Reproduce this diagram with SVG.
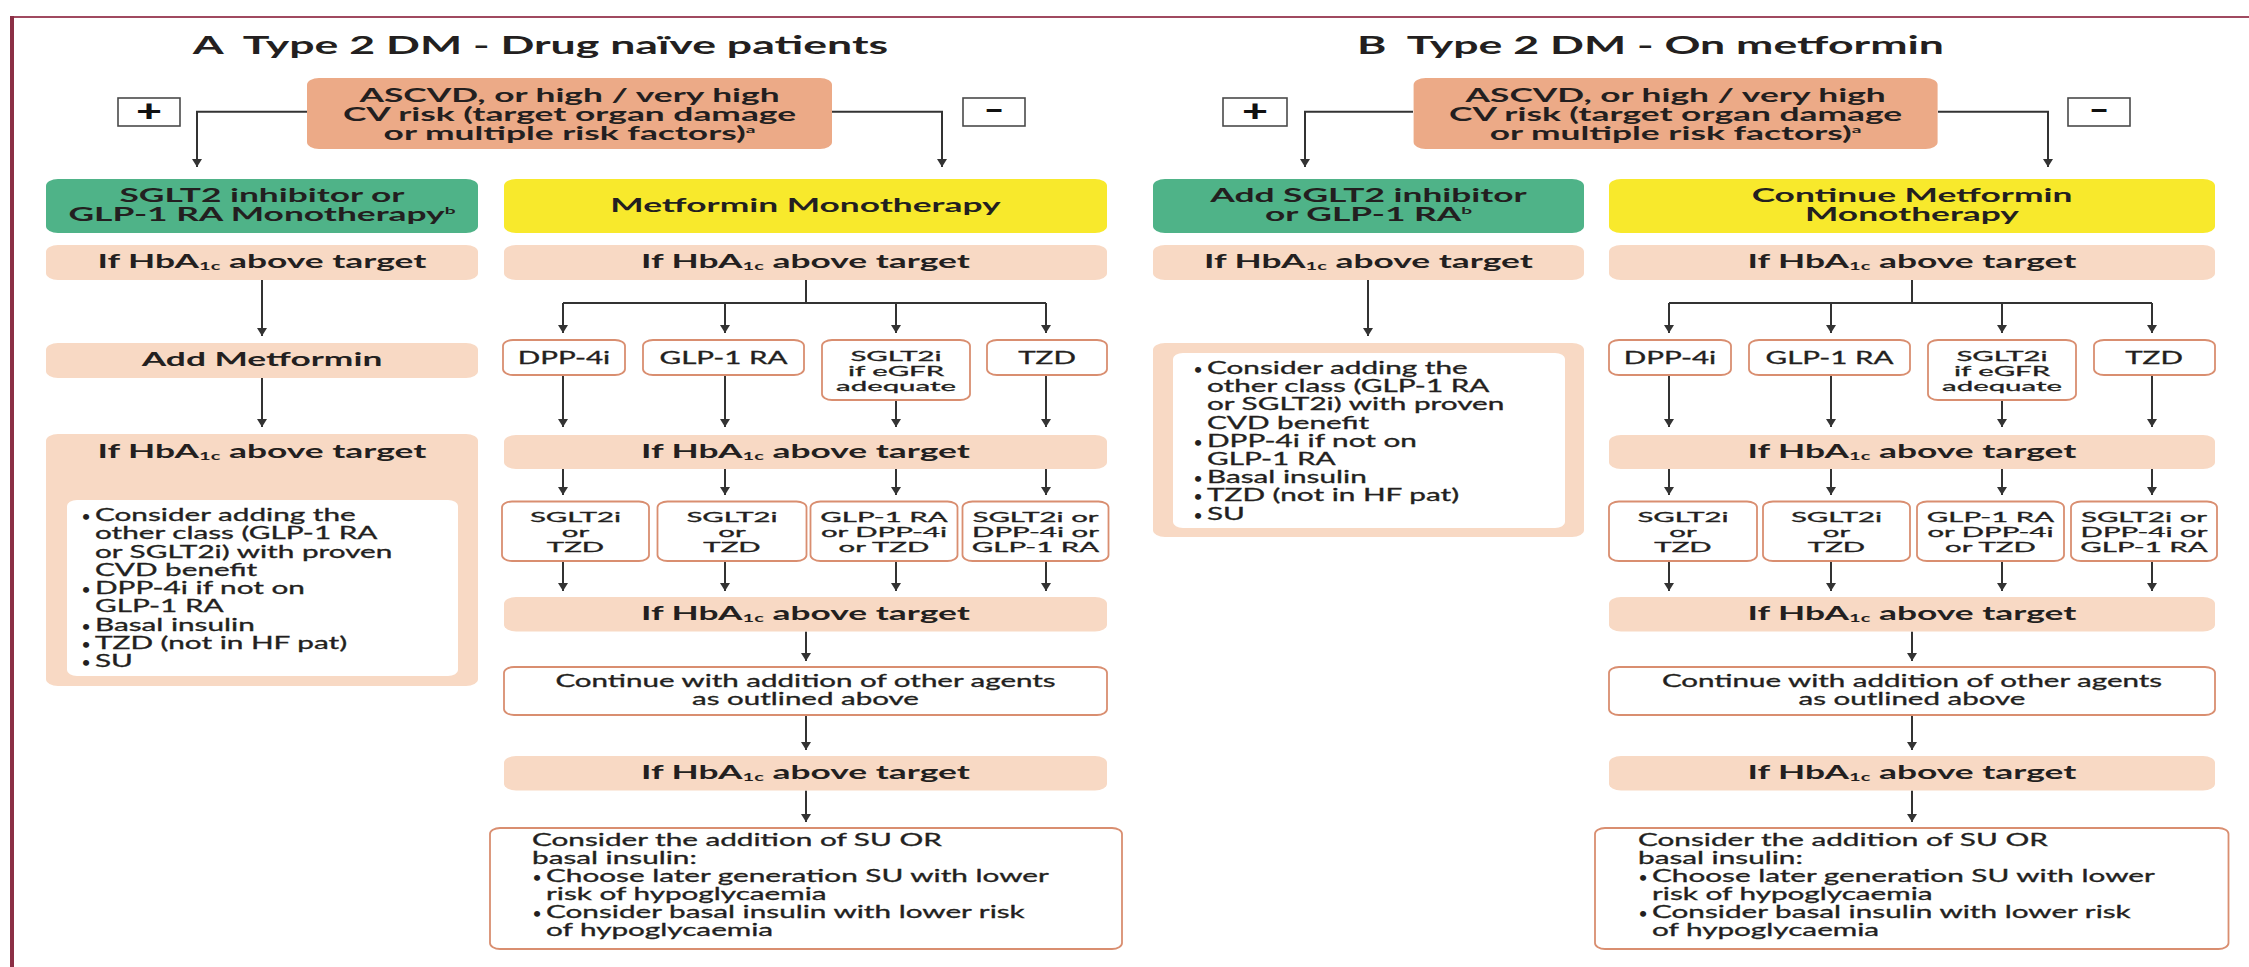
<svg xmlns="http://www.w3.org/2000/svg" width="2249" height="967" viewBox="0 0 2249 967">
<style>
.t{font-family:Lato,"Open Sans","Liberation Sans",sans-serif;fill:#231f20}
.ti{font-size:24px;font-weight:700}
.b{font-size:18.5px;font-weight:700}
.r{font-size:16.5px;font-weight:400;stroke:#231f20;stroke-width:0.3}
.s{font-size:14px;font-weight:400;stroke:#231f20;stroke-width:0.3}
.d{font-size:14px;font-weight:700}
.m{text-anchor:middle}
.asc{fill:#ecaa87}
.grn{fill:#4fb388}
.yel{fill:#f8e92c}
.pch{fill:#f8d9c4}
.wht{fill:#ffffff}
.wb{fill:#ffffff;stroke:#d98e70;stroke-width:1.8}
.pm{fill:#ffffff;stroke:#4a4a4a;stroke-width:1.6}
.cn{fill:none;stroke:#333333;stroke-width:2}
.ar{marker-end:url(#ah)}
.pmt{font-family:Lato,"Open Sans","Liberation Sans",sans-serif;font-size:30px;font-weight:900;fill:#111111}
</style>
<defs>
<marker id="ah" viewBox="0 0 8 10" refX="8" refY="5" markerWidth="8" markerHeight="10" markerUnits="userSpaceOnUse" orient="auto">
<path d="M0,0 L8,5 L0,10 z" fill="#333333"/>
</marker>
</defs>
<rect width="2249" height="967" fill="#ffffff"/>
<g id="frame">
<line x1="12" y1="17" x2="2249" y2="17" stroke="#a04a60" stroke-width="2"/>
<line x1="12" y1="16" x2="12" y2="967" stroke="#8b2f45" stroke-width="4"/>
</g>

<!-- ================= PANEL A ================= -->
<g id="panelA">
<g id="connectorsA">
<path class="cn ar" d="M307,111.7 H197 V167"/>
<path class="cn ar" d="M832,111.7 H942 V167"/>
<path class="cn ar" d="M262,280 V336"/>
<path class="cn ar" d="M262,378 V427"/>
<path class="cn ar" d="M262,463 V494"/>
<path class="cn" d="M806,280 V303 M563,303 H1046"/>
<path class="cn ar" d="M563,303 V333"/>
<path class="cn ar" d="M725,303 V333"/>
<path class="cn ar" d="M896,303 V333"/>
<path class="cn ar" d="M1046,303 V333"/>
<path class="cn ar" d="M563,375 V427"/>
<path class="cn ar" d="M725,375 V427"/>
<path class="cn ar" d="M896,400 V427"/>
<path class="cn ar" d="M1046,375 V427"/>
<path class="cn ar" d="M563,469 V495"/>
<path class="cn ar" d="M725,469 V495"/>
<path class="cn ar" d="M896,469 V495"/>
<path class="cn ar" d="M1046,469 V495"/>
<path class="cn ar" d="M563,561 V591"/>
<path class="cn ar" d="M725,561 V591"/>
<path class="cn ar" d="M896,561 V591"/>
<path class="cn ar" d="M1046,561 V591"/>
<path class="cn ar" d="M806,631.5 V661"/>
<path class="cn ar" d="M806,715 V750"/>
<path class="cn ar" d="M806,790.5 V822"/>
</g>
<g id="titleA"><text class="t ti m" transform="translate(540.5,54) scale(1.86,1)">A&#160; Type 2 DM - Drug naïve patients</text></g>
<g id="ascvdA">
<rect class="asc" x="307" y="78" width="525" height="71" rx="12" ry="7"/>
<text class="t b m" transform="translate(569.5,101.5) scale(1.91,1)">ASCVD, or high / very high</text>
<text class="t b m" transform="translate(569.5,120.5) scale(1.91,1)">CV risk (target organ damage</text>
<text class="t b m" transform="translate(569.5,139.5) scale(1.91,1)">or multiple risk factors)<tspan font-size="10" dy="-7">a</tspan></text>
</g>
<g id="plusA"><rect class="pm" x="118" y="98" width="62" height="28"/><text class="pmt m" transform="translate(149,122) scale(1.5,1)">+</text></g>
<g id="minusA"><rect class="pm" x="963" y="98" width="62" height="28"/><text class="pmt m" transform="translate(994,121) scale(1.1,1)">−</text></g>
<g id="greenA">
<rect class="grn" x="46" y="179" width="432" height="54" rx="12" ry="7"/>
<text class="t b m" transform="translate(262,202) scale(1.91,1)">SGLT2 inhibitor or</text>
<text class="t b m" transform="translate(262,221) scale(1.91,1)">GLP-1 RA Monotherapy<tspan font-size="10" dy="-7">b</tspan></text>
</g>
<g id="yellowA">
<rect class="yel" x="504" y="179" width="603" height="54" rx="12" ry="7"/>
<text class="t b m" transform="translate(805.5,212) scale(1.91,1)">Metformin Monotherapy</text>
</g>
<g id="hbaA1">
<rect class="pch" x="46" y="245" width="432" height="35" rx="12" ry="7"/>
<text class="t b m" transform="translate(262,268) scale(1.91,1)">If HbA<tspan font-size="10.5" dy="2">1c</tspan><tspan dy="-2"> above target</tspan></text>
</g>
<g id="hbaA2">
<rect class="pch" x="504" y="245" width="603" height="35" rx="12" ry="7"/>
<text class="t b m" transform="translate(805.5,268) scale(1.91,1)">If HbA<tspan font-size="10.5" dy="2">1c</tspan><tspan dy="-2"> above target</tspan></text>
</g>
<g id="addMetA">
<rect class="pch" x="46" y="343" width="432" height="35" rx="12" ry="7"/>
<text class="t b m" transform="translate(262,366) scale(1.91,1)">Add Metformin</text>
</g>
<g id="leftBoxA">
<rect class="pch" x="46" y="434" width="432" height="252" rx="12" ry="7"/>
<text class="t b m" transform="translate(262,458) scale(1.91,1)">If HbA<tspan font-size="10.5" dy="2">1c</tspan><tspan dy="-2"> above target</tspan></text>
<rect class="wht" x="67" y="500" width="391" height="176" rx="10" ry="6"/>
<text class="t d" transform="translate(82,521)">•</text>
<text class="t r" transform="translate(95,521) scale(1.8,1)">Consider adding the</text>
<text class="t r" transform="translate(95,539.25) scale(1.8,1)">other class (GLP-1 RA</text>
<text class="t r" transform="translate(95,557.5) scale(1.8,1)">or SGLT2i) with proven</text>
<text class="t r" transform="translate(95,575.75) scale(1.8,1)">CVD benefit</text>
<text class="t d" transform="translate(82,594)">•</text>
<text class="t r" transform="translate(95,594) scale(1.8,1)">DPP-4i if not on</text>
<text class="t r" transform="translate(95,612.25) scale(1.8,1)">GLP-1 RA</text>
<text class="t d" transform="translate(82,630.5)">•</text>
<text class="t r" transform="translate(95,630.5) scale(1.8,1)">Basal insulin</text>
<text class="t d" transform="translate(82,648.75)">•</text>
<text class="t r" transform="translate(95,648.75) scale(1.8,1)">TZD (not in HF pat)</text>
<text class="t d" transform="translate(82,667)">•</text>
<text class="t r" transform="translate(95,667) scale(1.8,1)">SU</text>
</g>
<g id="r1A1"><rect class="wb" x="503" y="340" width="122" height="35" rx="10" ry="6"/><text class="t r m" transform="translate(564,364) scale(1.79,1)">DPP-4i</text></g>
<g id="r1A2"><rect class="wb" x="643" y="340" width="161" height="35" rx="10" ry="6"/><text class="t r m" transform="translate(723.5,364) scale(1.79,1)">GLP-1 RA</text></g>
<g id="r1A3"><rect class="wb" x="822" y="340" width="148" height="60" rx="10" ry="6"/>
<text class="t s m" transform="translate(896,361) scale(2.1,1)">SGLT2i</text>
<text class="t s m" transform="translate(896,376) scale(2.1,1)">if eGFR</text>
<text class="t s m" transform="translate(896,391) scale(2.1,1)">adequate</text></g>
<g id="r1A4"><rect class="wb" x="987" y="340" width="120" height="35" rx="10" ry="6"/><text class="t r m" transform="translate(1047,364) scale(1.79,1)">TZD</text></g>
<g id="hbaA3">
<rect class="pch" x="504" y="435" width="603" height="34" rx="12" ry="7"/>
<text class="t b m" transform="translate(805.5,458) scale(1.91,1)">If HbA<tspan font-size="10.5" dy="2">1c</tspan><tspan dy="-2"> above target</tspan></text>
</g>
<g id="r2A1"><rect class="wb" x="502" y="501.5" width="147" height="59.5" rx="10" ry="6"/>
<text class="t s m" transform="translate(575.5,522) scale(2.1,1)">SGLT2i</text>
<text class="t s m" transform="translate(575.5,537) scale(2.1,1)">or</text>
<text class="t s m" transform="translate(575.5,552) scale(2.1,1)">TZD</text></g>
<g id="r2A2"><rect class="wb" x="657.5" y="501.5" width="149" height="59.5" rx="10" ry="6"/>
<text class="t s m" transform="translate(732,522) scale(2.1,1)">SGLT2i</text>
<text class="t s m" transform="translate(732,537) scale(2.1,1)">or</text>
<text class="t s m" transform="translate(732,552) scale(2.1,1)">TZD</text></g>
<g id="r2A3"><rect class="wb" x="810.5" y="501.5" width="147" height="59.5" rx="10" ry="6"/>
<text class="t s m" transform="translate(884,522) scale(2.1,1)">GLP-1 RA</text>
<text class="t s m" transform="translate(884,537) scale(2.1,1)">or DPP-4i</text>
<text class="t s m" transform="translate(884,552) scale(2.1,1)">or TZD</text></g>
<g id="r2A4"><rect class="wb" x="962.5" y="501.5" width="146" height="59.5" rx="10" ry="6"/>
<text class="t s m" transform="translate(1035.5,522) scale(2.1,1)">SGLT2i or</text>
<text class="t s m" transform="translate(1035.5,537) scale(2.1,1)">DPP-4i or</text>
<text class="t s m" transform="translate(1035.5,552) scale(2.1,1)">GLP-1 RA</text></g>
<g id="hbaA4">
<rect class="pch" x="504" y="597" width="603" height="34.5" rx="12" ry="7"/>
<text class="t b m" transform="translate(805.5,620) scale(1.91,1)">If HbA<tspan font-size="10.5" dy="2">1c</tspan><tspan dy="-2"> above target</tspan></text>
</g>
<g id="contA"><rect class="wb" x="504" y="667" width="603" height="48" rx="10" ry="6"/>
<text class="t r m" transform="translate(805.5,686.5) scale(1.79,1)">Continue with addition of other agents</text>
<text class="t r m" transform="translate(805.5,705) scale(1.79,1)">as outlined above</text></g>
<g id="hbaA5">
<rect class="pch" x="504" y="756" width="603" height="34.5" rx="12" ry="7"/>
<text class="t b m" transform="translate(805.5,779) scale(1.91,1)">If HbA<tspan font-size="10.5" dy="2">1c</tspan><tspan dy="-2"> above target</tspan></text>
</g>
<g id="finalA"><rect class="wb" x="490" y="828" width="632" height="121" rx="10" ry="6"/>
<text class="t r" transform="translate(532,846) scale(1.8,1)">Consider the addition of SU OR</text>
<text class="t r" transform="translate(532,864) scale(1.8,1)">basal insulin:</text>
<text class="t d" transform="translate(533,882)">•</text>
<text class="t r" transform="translate(546,882) scale(1.8,1)">Choose later generation SU with lower</text>
<text class="t r" transform="translate(546,900) scale(1.8,1)">risk of hypoglycaemia</text>
<text class="t d" transform="translate(533,918)">•</text>
<text class="t r" transform="translate(546,918) scale(1.8,1)">Consider basal insulin with lower risk</text>
<text class="t r" transform="translate(546,936) scale(1.8,1)">of hypoglycaemia</text></g>
</g>

<!-- ================= PANEL B ================= -->
<g id="panelB" transform="translate(1106,0)">
<g id="connectorsB">
<path class="cn ar" d="M307,111.7 H199 V167"/>
<path class="cn ar" d="M832,111.7 H942 V167"/>
<path class="cn ar" d="M262,280 V336"/>
<path class="cn" d="M806,280 V303 M563,303 H1046"/>
<path class="cn ar" d="M563,303 V333"/>
<path class="cn ar" d="M725,303 V333"/>
<path class="cn ar" d="M896,303 V333"/>
<path class="cn ar" d="M1046,303 V333"/>
<path class="cn ar" d="M563,375 V427"/>
<path class="cn ar" d="M725,375 V427"/>
<path class="cn ar" d="M896,400 V427"/>
<path class="cn ar" d="M1046,375 V427"/>
<path class="cn ar" d="M563,469 V495"/>
<path class="cn ar" d="M725,469 V495"/>
<path class="cn ar" d="M896,469 V495"/>
<path class="cn ar" d="M1046,469 V495"/>
<path class="cn ar" d="M563,561 V591"/>
<path class="cn ar" d="M725,561 V591"/>
<path class="cn ar" d="M896,561 V591"/>
<path class="cn ar" d="M1046,561 V591"/>
<path class="cn ar" d="M806,631.5 V661"/>
<path class="cn ar" d="M806,715 V750"/>
<path class="cn ar" d="M806,790.5 V822"/>
</g>
<g id="titleB"><text class="t ti m" transform="translate(544.5,54) scale(1.86,1)">B&#160; Type 2 DM - On metformin</text></g>
<g id="ascvdB">
<rect class="asc" x="307.6" y="78" width="524" height="71" rx="12" ry="7"/>
<text class="t b m" transform="translate(569.6,101.5) scale(1.91,1)">ASCVD, or high / very high</text>
<text class="t b m" transform="translate(569.6,120.5) scale(1.91,1)">CV risk (target organ damage</text>
<text class="t b m" transform="translate(569.6,139.5) scale(1.91,1)">or multiple risk factors)<tspan font-size="10" dy="-7">a</tspan></text>
</g>
<g id="plusB"><rect class="pm" x="117" y="98" width="64" height="28"/><text class="pmt m" transform="translate(149,122) scale(1.5,1)">+</text></g>
<g id="minusB"><rect class="pm" x="962" y="98" width="62" height="28"/><text class="pmt m" transform="translate(993,121) scale(1.1,1)">−</text></g>
<g id="greenB">
<rect class="grn" x="47" y="179" width="431" height="54" rx="12" ry="7"/>
<text class="t b m" transform="translate(262.5,202) scale(1.91,1)">Add SGLT2 inhibitor</text>
<text class="t b m" transform="translate(262.5,221) scale(1.91,1)">or GLP-1 RA<tspan font-size="10" dy="-7">b</tspan></text>
</g>
<g id="yellowB">
<rect class="yel" x="503" y="179" width="606" height="54" rx="12" ry="7"/>
<text class="t b m" transform="translate(806,202) scale(1.91,1)">Continue Metformin</text>
<text class="t b m" transform="translate(806,221) scale(1.91,1)">Monotherapy</text>
</g>
<g id="hbaB1">
<rect class="pch" x="47" y="245" width="431" height="35" rx="12" ry="7"/>
<text class="t b m" transform="translate(262.5,268) scale(1.91,1)">If HbA<tspan font-size="10.5" dy="2">1c</tspan><tspan dy="-2"> above target</tspan></text>
</g>
<g id="hbaB2">
<rect class="pch" x="503" y="245" width="606" height="35" rx="12" ry="7"/>
<text class="t b m" transform="translate(806,268) scale(1.91,1)">If HbA<tspan font-size="10.5" dy="2">1c</tspan><tspan dy="-2"> above target</tspan></text>
</g>
<g id="leftBoxB">
<rect class="pch" x="47" y="343" width="431" height="194" rx="12" ry="7"/>
<rect class="wht" x="67" y="353" width="392" height="175" rx="10" ry="6"/>
<text class="t d" transform="translate(88,374)">•</text>
<text class="t r" transform="translate(101,374) scale(1.8,1)">Consider adding the</text>
<text class="t r" transform="translate(101,392.2) scale(1.8,1)">other class (GLP-1 RA</text>
<text class="t r" transform="translate(101,410.4) scale(1.8,1)">or SGLT2i) with proven</text>
<text class="t r" transform="translate(101,428.6) scale(1.8,1)">CVD benefit</text>
<text class="t d" transform="translate(88,446.8)">•</text>
<text class="t r" transform="translate(101,446.8) scale(1.8,1)">DPP-4i if not on</text>
<text class="t r" transform="translate(101,465) scale(1.8,1)">GLP-1 RA</text>
<text class="t d" transform="translate(88,483.2)">•</text>
<text class="t r" transform="translate(101,483.2) scale(1.8,1)">Basal insulin</text>
<text class="t d" transform="translate(88,501.4)">•</text>
<text class="t r" transform="translate(101,501.4) scale(1.8,1)">TZD (not in HF pat)</text>
<text class="t d" transform="translate(88,519.6)">•</text>
<text class="t r" transform="translate(101,519.6) scale(1.8,1)">SU</text>
</g>
<g id="r1B1"><rect class="wb" x="503" y="340" width="122" height="35" rx="10" ry="6"/><text class="t r m" transform="translate(564,364) scale(1.79,1)">DPP-4i</text></g>
<g id="r1B2"><rect class="wb" x="643" y="340" width="161" height="35" rx="10" ry="6"/><text class="t r m" transform="translate(723.5,364) scale(1.79,1)">GLP-1 RA</text></g>
<g id="r1B3"><rect class="wb" x="822" y="340" width="148" height="60" rx="10" ry="6"/>
<text class="t s m" transform="translate(896,361) scale(2.1,1)">SGLT2i</text>
<text class="t s m" transform="translate(896,376) scale(2.1,1)">if eGFR</text>
<text class="t s m" transform="translate(896,391) scale(2.1,1)">adequate</text></g>
<g id="r1B4"><rect class="wb" x="988" y="340" width="121" height="35" rx="10" ry="6"/><text class="t r m" transform="translate(1048,364) scale(1.79,1)">TZD</text></g>
<g id="hbaB3">
<rect class="pch" x="503" y="435" width="606" height="34" rx="12" ry="7"/>
<text class="t b m" transform="translate(806,458) scale(1.91,1)">If HbA<tspan font-size="10.5" dy="2">1c</tspan><tspan dy="-2"> above target</tspan></text>
</g>
<g id="r2B1"><rect class="wb" x="503" y="501.5" width="148" height="59.5" rx="10" ry="6"/>
<text class="t s m" transform="translate(577,522) scale(2.1,1)">SGLT2i</text>
<text class="t s m" transform="translate(577,537) scale(2.1,1)">or</text>
<text class="t s m" transform="translate(577,552) scale(2.1,1)">TZD</text></g>
<g id="r2B2"><rect class="wb" x="657" y="501.5" width="147" height="59.5" rx="10" ry="6"/>
<text class="t s m" transform="translate(730.5,522) scale(2.1,1)">SGLT2i</text>
<text class="t s m" transform="translate(730.5,537) scale(2.1,1)">or</text>
<text class="t s m" transform="translate(730.5,552) scale(2.1,1)">TZD</text></g>
<g id="r2B3"><rect class="wb" x="811" y="501.5" width="147" height="59.5" rx="10" ry="6"/>
<text class="t s m" transform="translate(884.5,522) scale(2.1,1)">GLP-1 RA</text>
<text class="t s m" transform="translate(884.5,537) scale(2.1,1)">or DPP-4i</text>
<text class="t s m" transform="translate(884.5,552) scale(2.1,1)">or TZD</text></g>
<g id="r2B4"><rect class="wb" x="965" y="501.5" width="146" height="59.5" rx="10" ry="6"/>
<text class="t s m" transform="translate(1038,522) scale(2.1,1)">SGLT2i or</text>
<text class="t s m" transform="translate(1038,537) scale(2.1,1)">DPP-4i or</text>
<text class="t s m" transform="translate(1038,552) scale(2.1,1)">GLP-1 RA</text></g>
<g id="hbaB4">
<rect class="pch" x="503" y="597" width="606" height="34.5" rx="12" ry="7"/>
<text class="t b m" transform="translate(806,620) scale(1.91,1)">If HbA<tspan font-size="10.5" dy="2">1c</tspan><tspan dy="-2"> above target</tspan></text>
</g>
<g id="contB"><rect class="wb" x="503" y="667" width="606" height="48" rx="10" ry="6"/>
<text class="t r m" transform="translate(806,686.5) scale(1.79,1)">Continue with addition of other agents</text>
<text class="t r m" transform="translate(806,705) scale(1.79,1)">as outlined above</text></g>
<g id="hbaB5">
<rect class="pch" x="503" y="756" width="606" height="34.5" rx="12" ry="7"/>
<text class="t b m" transform="translate(806,779) scale(1.91,1)">If HbA<tspan font-size="10.5" dy="2">1c</tspan><tspan dy="-2"> above target</tspan></text>
</g>
<g id="finalB"><rect class="wb" x="489" y="828" width="633.5" height="121" rx="10" ry="6"/>
<text class="t r" transform="translate(532,846) scale(1.8,1)">Consider the addition of SU OR</text>
<text class="t r" transform="translate(532,864) scale(1.8,1)">basal insulin:</text>
<text class="t d" transform="translate(533,882)">•</text>
<text class="t r" transform="translate(546,882) scale(1.8,1)">Choose later generation SU with lower</text>
<text class="t r" transform="translate(546,900) scale(1.8,1)">risk of hypoglycaemia</text>
<text class="t d" transform="translate(533,918)">•</text>
<text class="t r" transform="translate(546,918) scale(1.8,1)">Consider basal insulin with lower risk</text>
<text class="t r" transform="translate(546,936) scale(1.8,1)">of hypoglycaemia</text></g>
</g>
</svg>
